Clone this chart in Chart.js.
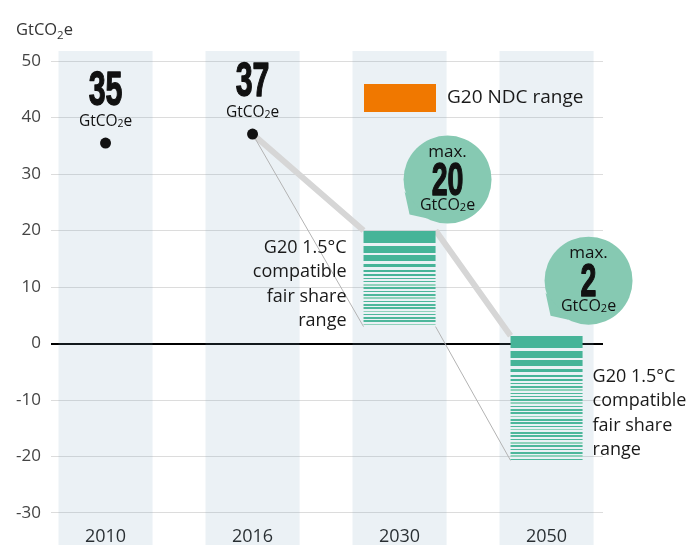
<!DOCTYPE html>
<html><head><meta charset="utf-8">
<script src="https://cdn.jsdelivr.net/npm/chart.js@4.4.1/dist/chart.umd.min.js"></script>
<style>html,body{margin:0;padding:0;background:#fff}#wrap{width:692px;height:545px}</style>
</head><body><div id="wrap"><canvas id="c" width="692" height="545"></canvas></div>
<script>
// ---------- data ----------
const categories = ['2010', '2016', '2030', '2050'];
const emissionIdx = [0, 1];
const emissions = [35.5, 37.1];
const emissionLabels = ['35', '37'];
const rangeIdx = [2, 3];
const rangeTop = [20, 1.4];
const rangeBottom = [3, -20.7];
const rangeMaxLabels = ['20', '2'];
const yTicks = [50, 40, 30, 20, 10, 0, -10, -20, -30];
const legendLabel = 'G20 NDC range';
const rangeLabelLines = ['G20 1.5°C', 'compatible', 'fair share', 'range'];
const unitText = ['GtCO', '2', 'e'];

// ---------- layout / style constants ----------
const Y_MIN = -31.6, Y_MAX = 51.8;
const X_MIN = -0.371, X_MAX = 3.384;
const COL_FRAC = 0.64, BAR_FRAC = 0.49, HW = BAR_FRAC / 2;
const GREEN = '#46b498', BUBBLE = '#86c9b2', ORANGE = '#f07800';
const FONT = '"Open Sans", "Noto Sans", sans-serif';
const STRIPES = [[0, 12], [15, 7], [24.5, 5.5], [33, 3.6], [39, 2.4], [43.5, 2]];

function stripeFill(ctx) {
  if (ctx.type !== 'data' || !ctx.chart.scales.y) return GREEN;
  const chart = ctx.chart, y = chart.scales.y;
  const raw = ctx.raw;
  const top = y.getPixelForValue(raw.y[1]), bot = y.getPixelForValue(raw.y[0]);
  const h = bot - top;
  if (!(h > 0)) return GREEN;
  const g = chart.ctx.createLinearGradient(0, top, 0, bot);
  const clear = 'rgba(235,240,245,0)';
  const list = STRIPES.slice();
  let k = 0;
  for (let o = 47; o < h - 0.8; o += 3.3) { list.push([o, 1.6, k % 4 === 2 ? '#8fd2bb' : '#4db79b']); k++; }
  const cl = v => Math.max(0, Math.min(1, v));
  list.forEach(([o, t, col]) => {
    col = col || GREEN;
    const s = cl(o / h), e = cl((o + t) / h);
    g.addColorStop(s, clear); g.addColorStop(s, col);
    g.addColorStop(e, col); g.addColorStop(e, clear);
  });
  return g;
}

function drawUnit(c, x, y, size, subSize, subDrop, align, color) {
  c.save();
  c.fillStyle = color || '#111';
  c.textBaseline = 'alphabetic';
  c.textAlign = 'left';
  const f1 = `${size}px ${FONT}`, f2 = `${subSize}px ${FONT}`;
  c.font = f1; const w1 = c.measureText(unitText[0]).width, w3 = c.measureText(unitText[2]).width;
  c.font = f2; const w2 = c.measureText(unitText[1]).width;
  const total = w1 + w2 + w3;
  let x0 = align === 'center' ? x - total / 2 : x;
  c.font = f1; c.fillText(unitText[0], x0, y);
  c.font = f2; c.fillText(unitText[1], x0 + w1, y + subDrop);
  c.font = f1; c.fillText(unitText[2], x0 + w1 + w2, y);
  c.restore();
}

function bigNumber(c, text, x, y, size) {
  c.save();
  c.translate(x, y); c.scale(0.62, 1);
  c.font = `bold ${size}px "Liberation Sans", Arial, sans-serif`;
  c.textAlign = 'center'; c.textBaseline = 'alphabetic';
  c.fillStyle = '#111'; c.strokeStyle = '#111'; c.lineWidth = 1.4; c.lineJoin = 'round';
  c.fillText(text, 0, 0); c.strokeText(text, 0, 0);
  c.restore();
}

const bubbleOffsets = [[48, -51], [42, -55]];
const rangeLabelPos = [{ side: 'left', dx: -17, dy: 17 }, { side: 'right', dx: 10, dy: 41 }];

const annotations = {
  id: 'annotations',
  afterDraw(chart) {
    const c = chart.ctx, xs = chart.scales.x, ys = chart.scales.y;
    drawUnit(c, 16, 35, 16.5, 11.5, 4, 'left', '#333');
    emissionIdx.forEach((xi, i) => {
      const px = xs.getPixelForValue(xi), py = ys.getPixelForValue(emissions[i]);
      bigNumber(c, emissionLabels[i], px, py - 38, 49);
      drawUnit(c, px, py - 17, 15.5, 10.5, 1, 'center', '#111');
    });
    rangeIdx.forEach((xi, i) => {
      const cx0 = xs.getPixelForValue(xi);
      const topPx = ys.getPixelForValue(rangeTop[i]);
      const r = 44;
      const cx = cx0 + bubbleOffsets[i][0], cy = topPx + bubbleOffsets[i][1];
      c.save();
      c.fillStyle = BUBBLE;
      c.beginPath(); c.arc(cx, cy, r, 0, Math.PI * 2); c.fill();
      c.beginPath();
      c.moveTo(cx - 43, cy + 12); c.lineTo(cx - 38, cy + 35); c.lineTo(cx - 20, cy + 39); c.closePath(); c.fill();
      c.restore();
      c.save();
      c.fillStyle = '#111'; c.font = `17px ${FONT}`; c.textAlign = 'center'; c.textBaseline = 'middle';
      c.fillText('max.', cx, cy - 27);
      c.restore();
      bigNumber(c, rangeMaxLabels[i], cx, cy + 15, 46);
      drawUnit(c, cx, cy + 30, 16, 11, 1, 'center', '#111');
      const lp = rangeLabelPos[i];
      const edge = lp.side === 'left' ? xs.getPixelForValue(xi - HW) : xs.getPixelForValue(xi + HW);
      c.save();
      c.fillStyle = '#1a1a1a'; c.font = `18px ${FONT}`;
      c.textAlign = lp.side === 'left' ? 'right' : 'left'; c.textBaseline = 'middle';
      rangeLabelLines.forEach((t, j) => c.fillText(t, edge + lp.dx, topPx + lp.dy + j * 24.5));
      c.restore();
    });
    const ds = chart.data.datasets.find(d => d.id === 'ndc');
    c.save();
    c.fillStyle = ds.backgroundColor; c.fillRect(364, 84, 72, 28);
    c.fillStyle = '#1a1a1a'; c.font = `19px ${FONT}`; c.textAlign = 'left'; c.textBaseline = 'middle';
    c.fillText(ds.label, 447, 98);
    c.restore();
  }
};

const thick = [
  { x: emissionIdx[1], y: emissions[1] },
  { x: rangeIdx[0] - HW, y: rangeTop[0] },
  { x: rangeIdx[0], y: null },
  { x: rangeIdx[0] + HW, y: rangeTop[0] },
  { x: rangeIdx[1] - HW, y: rangeTop[1] }
];
const thin = [
  { x: emissionIdx[1], y: emissions[1] },
  { x: rangeIdx[0] - HW, y: rangeBottom[0] },
  { x: rangeIdx[0], y: null },
  { x: rangeIdx[0] + HW, y: rangeBottom[0] },
  { x: rangeIdx[1] - HW, y: rangeBottom[1] }
];

new Chart(document.getElementById('c'), {
  type: 'bar',
  data: {
    datasets: [
      { id: 'cols', type: 'bar', data: categories.map((_, i) => ({ x: i, y: [-36, Y_MAX] })),
        backgroundColor: 'rgba(120,160,190,0.15)', barPercentage: COL_FRAC, categoryPercentage: 1,
        grouped: false, clip: false, order: 10, borderWidth: 0 },
      { id: 'thick', type: 'line', data: thick, borderColor: '#d6d6d6', borderWidth: 6, pointRadius: 0,
        spanGaps: false, order: 6, borderCapStyle: 'butt' },
      { id: 'thin', type: 'line', data: thin, borderColor: '#b3b3b3', borderWidth: 1, pointRadius: 0,
        spanGaps: false, order: 5 },
      { id: 'range', type: 'bar', data: rangeIdx.map((x, i) => ({ x, y: [rangeBottom[i], rangeTop[i]] })),
        backgroundColor: stripeFill, barPercentage: BAR_FRAC, categoryPercentage: 1, grouped: false,
        order: 2, borderWidth: 0 },
      { id: 'dots', type: 'line', data: emissionIdx.map((x, i) => ({ x, y: emissions[i] })), showLine: false,
        pointRadius: 5.5, pointBackgroundColor: '#111', pointBorderWidth: 0, order: 1 },
      { id: 'ndc', type: 'bar', label: legendLabel, data: [], backgroundColor: ORANGE, grouped: false, order: 20 }
    ]
  },
  options: {
    responsive: false, animation: false, devicePixelRatio: 1, events: [],
    layout: { padding: { top: 51, right: 89, left: 0, bottom: 0 } },
    plugins: { legend: { display: false }, tooltip: { enabled: false } },
    scales: {
      x: {
        type: 'linear', min: X_MIN, max: X_MAX, offset: false, z: 1,
        grid: { display: false, drawTicks: false }, border: { display: false },
        afterBuildTicks: s => { s.ticks = categories.map((_, i) => ({ value: i })); },
        afterFit: s => { s.height = 23; },
        ticks: { callback: v => categories[v], padding: 4, maxRotation: 0, autoSkip: false,
          color: '#1a1a1a', font: { family: FONT, size: 18, weight: '500' } }
      },
      y: {
        type: 'linear', min: Y_MIN, max: Y_MAX,
        afterBuildTicks: s => { s.ticks = yTicks.map(v => ({ value: v })); },
        afterFit: s => { s.width = 51; },
        grid: {
          drawTicks: false,
          color: c => c.tick && c.tick.value === 0 ? '#000' : '#dcdcdc',
          lineWidth: c => c.tick && c.tick.value === 0 ? 2 : 1
        },
        border: { display: false },
        ticks: { padding: 10, color: '#444', font: { family: FONT, size: 17 } }
      }
    }
  },
  plugins: [annotations]
});
</script></body></html>
